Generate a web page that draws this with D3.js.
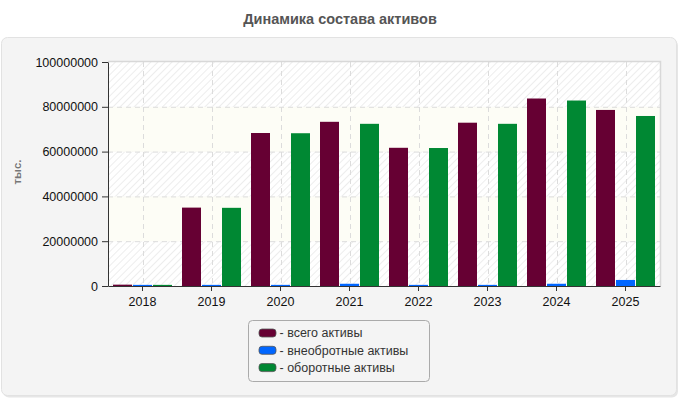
<!DOCTYPE html>
<html>
<head>
<meta charset="utf-8">
<script src="https://cdn.jsdelivr.net/npm/d3@7"></script>
<style>
  body { margin: 0; background: #fff; }
  svg { display: block; font-family: Arial, "Liberation Sans", sans-serif; }
</style>
</head>
<body>
<div id="chart"></div>
<script>
const years = ['2018', '2019', '2020', '2021', '2022', '2023', '2024', '2025']
const totalAssets = [600000, 35000000, 68300000, 73300000, 61700000, 72900000, 83700000, 78600000]
const nonCurrent = [500000, 500000, 500000, 1000000, 500000, 500000, 1000000, 2700000]
const current = [500000, 34900000, 68200000, 72400000, 61600000, 72400000, 82800000, 75900000]
const seriesNames = ['- всего активы', '- внеобротные активы', '- оборотные активы']
const yTicks = [0, 20000000, 40000000, 60000000, 80000000, 100000000]

const colors = ['#660033', '#0066ff', '#008833']
const series = [totalAssets, nonCurrent, current]

const width = 680
const height = 400
const margin = { top: 62, right: 20, bottom: 114, left: 108 }

const svg = d3.select('#chart').append('svg')
  .attr('width', width)
  .attr('height', height)

// hatch pattern for alternating bands
const defs = svg.append('defs')
const pat = defs.append('pattern')
  .attr('id', 'hatch')
  .attr('patternUnits', 'userSpaceOnUse')
  .attr('width', 5)
  .attr('height', 5)
  .attr('patternTransform', 'rotate(45)')
pat.append('rect').attr('width', 5).attr('height', 5).attr('fill', '#ffffff')
pat.append('line')
  .attr('x1', 0).attr('y1', 0).attr('x2', 0).attr('y2', 5)
  .attr('stroke', '#ededed').attr('stroke-width', 2)

svg.append('text')
  .attr('x', width / 2)
  .attr('y', 24)
  .attr('text-anchor', 'middle')
  .attr('font-size', 14.5)
  .attr('font-weight', 'bold')
  .attr('fill', '#555')
  .text('Динамика состава активов')

// outer panel
svg.append('rect')
  .attr('x', 3).attr('y', 39.5)
  .attr('width', 675).attr('height', 358)
  .attr('rx', 6)
  .attr('fill', '#e6e6e6')
svg.append('rect')
  .attr('x', 1.5).attr('y', 37.5)
  .attr('width', 675).attr('height', 358)
  .attr('rx', 6)
  .attr('fill', '#f4f4f4')
  .attr('stroke', '#e2e2e2')

const x = d3.scaleBand()
  .domain(years)
  .range([margin.left, width - margin.right])

const y = d3.scaleLinear()
  .domain([0, 100000000])
  .range([height - margin.bottom, margin.top])

// background bands
const bands = yTicks.slice(0, -1).map((d, i) => [d, yTicks[i + 1], i])
svg.append('g')
  .selectAll('rect')
  .data(bands)
  .join('rect')
  .attr('x', margin.left)
  .attr('width', width - margin.right - margin.left)
  .attr('y', d => y(d[1]))
  .attr('height', d => y(d[0]) - y(d[1]))
  .attr('fill', d => (d[2] % 2 === 0 ? 'url(#hatch)' : '#fdfdf6'))

// grid
const grid = svg.append('g')
  .attr('stroke', '#dcdcdc')
  .attr('stroke-dasharray', '5,4')
grid.selectAll('line.h')
  .data(yTicks.slice(1, -1))
  .join('line')
  .attr('class', 'h')
  .attr('x1', margin.left).attr('x2', width - margin.right)
  .attr('y1', d => y(d) + 0.5).attr('y2', d => y(d) + 0.5)
grid.selectAll('line.v')
  .data(years)
  .join('line')
  .attr('class', 'v')
  .attr('x1', d => Math.round(x(d) + x.bandwidth() / 2) + 0.5)
  .attr('x2', d => Math.round(x(d) + x.bandwidth() / 2) + 0.5)
  .attr('y1', margin.top).attr('y2', height - margin.bottom)

// plot border top/right
svg.append('path')
  .attr('d', `M${margin.left},${margin.top - 0.5}H${width - margin.right + 0.5}V${height - margin.bottom}`)
  .attr('fill', 'none')
  .attr('stroke', '#d8d8d8')
  .attr('stroke-width', 1.5)

// bars
const x1 = d3.scaleBand()
  .domain(d3.range(series.length))
  .range([5, x.bandwidth() - 5])
  .paddingInner(0.05)

svg.append('g')
  .selectAll('g')
  .data(years)
  .join('g')
  .attr('transform', d => `translate(${x(d)},0)`)
  .selectAll('rect')
  .data((d, i) => series.map((s, k) => ({ k, value: s[i] })))
  .join('rect')
  .attr('x', d => x1(d.k))
  .attr('width', x1.bandwidth())
  .attr('y', d => y(d.value))
  .attr('height', d => y(0) - y(d.value))
  .attr('fill', d => colors[d.k])

// axes
const yAxis = g =>
  g.attr('transform', `translate(${margin.left},0)`)
    .call(d3.axisLeft(y).tickValues(yTicks).tickFormat(d3.format('d')).tickSize(6).tickSizeOuter(0))
    .call(g => g.selectAll('text').attr('font-size', 12.5).attr('fill', '#111').attr('dx', '-1'))
    .call(g => g.selectAll('line, path').attr('stroke', '#333'))
    .attr('font-family', null)

const xAxis = g =>
  g.attr('transform', `translate(0,${height - margin.bottom})`)
    .call(d3.axisBottom(x).tickSize(5).tickSizeOuter(0))
    .call(g => g.selectAll('text').attr('font-size', 12.5).attr('fill', '#111').attr('dy', '0.95em'))
    .call(g => g.selectAll('line, path').attr('stroke', '#333'))
    .attr('font-family', null)

svg.append('g').call(yAxis)
svg.append('g').call(xAxis)

svg.append('text')
  .attr('transform', `translate(21,172) rotate(-90)`)
  .attr('text-anchor', 'middle')
  .attr('font-size', 11.5)
  .attr('font-weight', 'bold')
  .attr('fill', '#777')
  .text('тыс.')

// legend
const legend = svg.append('g').attr('transform', 'translate(248.5,320.5)')
legend.append('rect')
  .attr('width', 181).attr('height', 61)
  .attr('rx', 4)
  .attr('fill', '#f4f4f4')
  .attr('stroke', '#aaa')

const item = legend.selectAll('g')
  .data(seriesNames)
  .join('g')
  .attr('transform', (d, i) => `translate(0,${12.5 + i * 17.3})`)
item.append('rect')
  .attr('x', 10.5).attr('y', -4)
  .attr('width', 17).attr('height', 8)
  .attr('rx', 3)
  .attr('fill', (d, i) => colors[i])
  .attr('stroke', '#555')
  .attr('stroke-width', 0.8)
item.append('text')
  .attr('x', 31)
  .attr('dy', '0.35em')
  .attr('font-size', 12.5)
  .attr('fill', '#333')
  .text(d => d)
</script>
</body>
</html>
